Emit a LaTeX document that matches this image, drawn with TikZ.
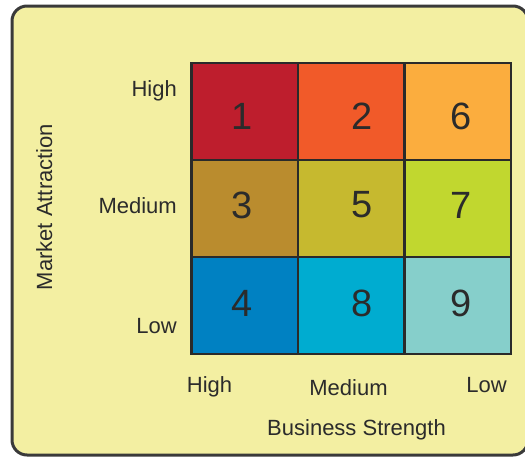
\documentclass[tikz,border=0pt]{standalone}
\usepackage{xcolor}
\usepackage{fontspec}
\setmainfont{Liberation Sans}
\usepackage{tikz}
\usetikzlibrary{
  positioning
}
\definecolor{PanelYellow}{HTML}{F3EFA2}
\definecolor{PanelBorder}{HTML}{3A3A3A}
\definecolor{GridDark}{HTML}{2A2A2A}
\definecolor{TextDark}{HTML}{2B2B2B}
\definecolor{CellRed}{HTML}{BE1E2D}
\definecolor{CellOrange}{HTML}{F15A29}
\definecolor{CellAmber}{HTML}{FBAD3E}
\definecolor{CellOchre}{HTML}{BA8C2E}
\definecolor{CellOlive}{HTML}{C6B92F}
\definecolor{CellLime}{HTML}{C1D72F}
\definecolor{CellBlue}{HTML}{0081C2}
\definecolor{CellCyan}{HTML}{00ACD0}
\definecolor{CellTeal}{HTML}{86CFCB}
\tikzset{
  panel/.style={
    draw=PanelBorder,
    line width=3pt,
    fill=PanelYellow,
    rounded corners=15pt
  },
  cell/.style={
    draw=GridDark,
    line width=2.5pt,
    minimum width=106.5pt,
    minimum height=97pt,
    inner sep=0pt
  },
  digit/.style={
    font=\fontsize{38}{38}\selectfont,
    text=TextDark,
    inner sep=0pt
  },
  axislabel/.style={
    font=\fontsize{22}{22}\selectfont,
    text=TextDark,
    inner sep=0pt
  }
}

\begin{document}
\begin{tikzpicture}[x=1pt, y=-1pt]

  \useasboundingbox (0,0) rectangle (525,458);

  % yellow panel, runs off the right side
  \draw[panel] (12,6) rectangle (528,455);

  % matrix cells
  \node[cell, fill=CellRed] (c1) at (244.75,111.5) {};
  \node[cell, fill=CellOrange] (c2) at (351.25,111.5) {};
  \node[cell, fill=CellAmber] (c6) at (457.75,111.5) {};
  \node[cell, fill=CellOchre] (c3) at (244.75,208.5) {};
  \node[cell, fill=CellOlive] (c5) at (351.25,208.5) {};
  \node[cell, fill=CellLime] (c7) at (457.75,208.5) {};
  \node[cell, fill=CellBlue] (c4) at (244.75,305.5) {};
  \node[cell, fill=CellCyan] (c8) at (351.25,305.5) {};
  \node[cell, fill=CellTeal] (c9) at (457.75,305.5) {};

  % cell numbers
  \node[digit] (d1) at (242,116) {1};
  \node[digit] (d2) at (362,116) {2};
  \node[digit] (d6) at (461,116) {6};
  \node[digit] (d3) at (242,205) {3};
  \node[digit] (d5) at (362,205) {5};
  \node[digit] (d7) at (461,205) {7};
  \node[digit] (d4) at (242,303) {4};
  \node[digit] (d8) at (362,303) {8};
  \node[digit] (d9) at (461,303) {9};

  % row labels
  \node[axislabel, anchor=base east] (rowhigh) at (177,96.5) {High};
  \node[axislabel, anchor=base east] (rowmedium) at (177,213) {Medium};
  \node[axislabel, anchor=base east] (rowlow) at (177,333) {Low};

  % column labels
  \node[axislabel, anchor=base] (colhigh) at (209.5,392.5) {High};
  \node[axislabel, anchor=base] (colmedium) at (348.5,395) {Medium};
  \node[axislabel, anchor=base] (collow) at (486.5,392.5) {Low};

  % axis titles
  \node[
    axislabel,
    anchor=base,
    rotate=90
  ] (attraction) at (52,207) {Market Attraction};

  \node[
    axislabel,
    anchor=base
  ] (strength) at (356.5,435) {Business Strength};

\end{tikzpicture}
\end{document}
